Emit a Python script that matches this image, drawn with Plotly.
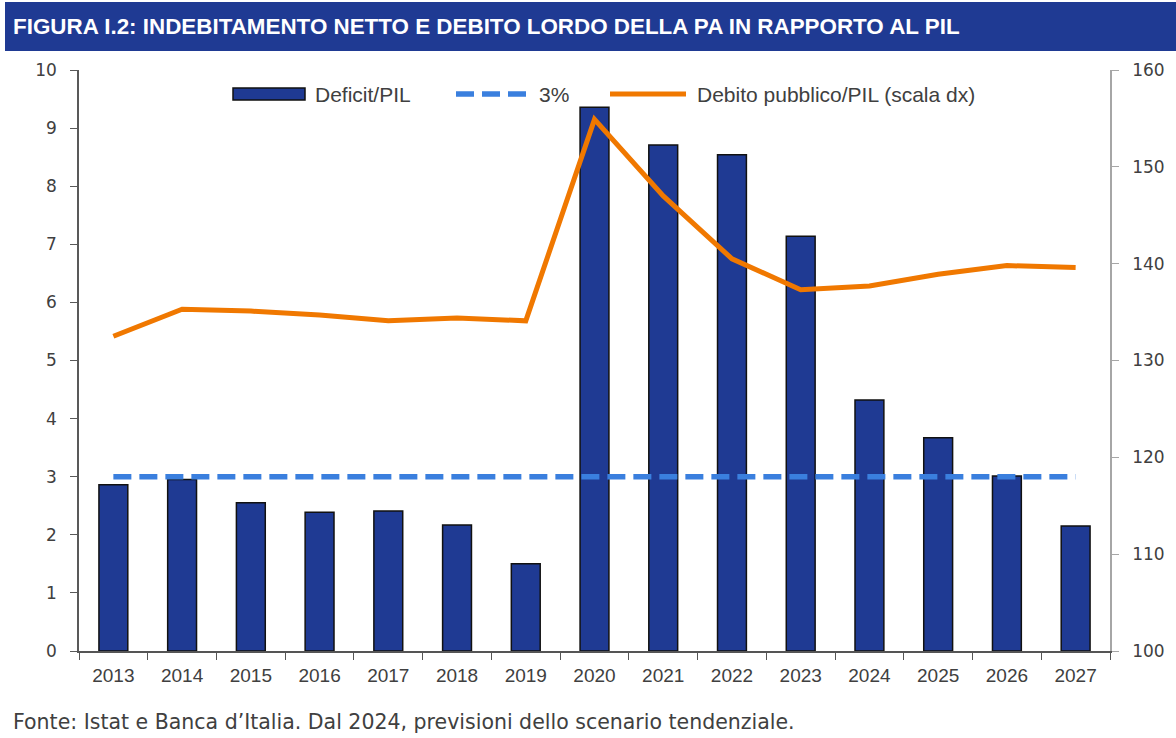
import plotly.graph_objects as go

years = [str(y) for y in range(2013, 2028)]
deficit = [2.86, 2.95, 2.55, 2.39, 2.41, 2.17, 1.50, 9.36, 8.71, 8.54, 7.14, 4.32, 3.67, 3.01, 2.15]
soglia = [3] * 15
debito = [132.5, 135.3, 135.1, 134.7, 134.1, 134.4, 134.1, 154.9, 147.0, 140.5, 137.3, 137.7, 138.9, 139.8, 139.6]

title_text = "FIGURA I.2: INDEBITAMENTO NETTO E DEBITO LORDO DELLA PA IN RAPPORTO AL PIL"
footer_text = "Fonte: Istat e Banca d\u2019Italia. Dal 2024, previsioni dello scenario tendenziale."
leg_names = ["Deficit/PIL", "3%", "Debito pubblico/PIL (scala dx)"]

BAR_C = "#1f3a93"
DASH_C = "#3a7fde"
LINE_C = "#f07800"
TXT_C = "#404040"

W, H = 1176, 738
L, R, T, B = 79, 66, 70, 87
PW, PH = W - L - R, H - T - B


def px(x):
    return (x - L) / PW


def py(y):
    return (H - B - y) / PH


fig = go.Figure()
fig.add_trace(go.Bar(x=years, y=deficit, name=leg_names[0],
                     marker=dict(color=BAR_C, line=dict(color="#111111", width=1.5)),
                     width=0.42, yaxis="y"))
fig.add_trace(go.Scatter(x=years, y=soglia, name=leg_names[1], mode="lines",
                         line=dict(color=DASH_C, width=5.5, dash="18px,8px"), yaxis="y"))
fig.add_trace(go.Scatter(x=years, y=debito, name=leg_names[2], mode="lines",
                         line=dict(color=LINE_C, width=5), yaxis="y2"))

axis_font = dict(family="DejaVu Sans, sans-serif", size=17, color=TXT_C)
fig.update_layout(
    width=W, height=H,
    paper_bgcolor="white", plot_bgcolor="white",
    margin=dict(l=L, r=R, t=T, b=B),
    showlegend=False,
    xaxis=dict(type="category", showline=True, linecolor="#555555", linewidth=1.5,
               ticks="outside", ticklen=7, tickcolor="#555555", tickson="boundaries",
               showgrid=False, ticklabelstandoff=6,
               tickfont=dict(family="Liberation Sans, sans-serif", size=19, color=TXT_C)),
    yaxis=dict(range=[0, 10], dtick=1, showline=True, linecolor="#595959", linewidth=1.5,
               ticks="outside", ticklen=7, tickcolor="#595959", showgrid=False, zeroline=False,
               ticklabelstandoff=10, tickfont=axis_font),
    yaxis2=dict(range=[100, 160], dtick=10, overlaying="y", side="right", showline=True,
                linecolor="#a6a6a6", linewidth=1.5, ticks="outside", ticklen=7, tickcolor="#a6a6a6",
                showgrid=False, zeroline=False, ticklabelstandoff=10, tickfont=axis_font),
)

# title bar
fig.add_shape(type="rect", xref="paper", yref="paper",
              x0=px(5), x1=px(W), y0=py(51), y1=py(2),
              fillcolor=BAR_C, line=dict(width=0))
fig.add_annotation(text="<b>" + title_text + "</b>", xref="paper", yref="paper",
                   x=px(11), y=py(27), xanchor="left", yanchor="middle", showarrow=False,
                   font=dict(family="Liberation Sans, sans-serif", size=22.4, color="white"))
# footer
fig.add_annotation(text=footer_text, xref="paper", yref="paper",
                   x=px(11), y=py(722), xanchor="left", yanchor="middle", showarrow=False,
                   font=dict(family="DejaVu Sans, sans-serif", size=20.5, color=TXT_C))

# custom legend
leg_y = 94
fig.add_shape(type="rect", xref="paper", yref="paper",
              x0=px(233), x1=px(305), y0=py(100), y1=py(88),
              fillcolor=BAR_C, line=dict(color="#111111", width=1.5))
fig.add_shape(type="line", xref="paper", yref="paper",
              x0=px(456), x1=px(526), y0=py(leg_y), y1=py(leg_y),
              line=dict(color=DASH_C, width=5.5, dash="18px,8px"))
fig.add_shape(type="line", xref="paper", yref="paper",
              x0=px(610), x1=px(686), y0=py(leg_y), y1=py(leg_y),
              line=dict(color=LINE_C, width=5))
for name, x0 in zip(leg_names, [313, 537, 695]):
    fig.add_annotation(text=name, xref="paper", yref="paper", x=px(x0), y=py(leg_y),
                       xanchor="left", yanchor="middle", showarrow=False,
                       font=dict(family="Liberation Sans, sans-serif", size=21, color=TXT_C))

fig.write_html("out.html", config={"displayModeBar": False},
               post_script="document.body.style.margin='0px';")
